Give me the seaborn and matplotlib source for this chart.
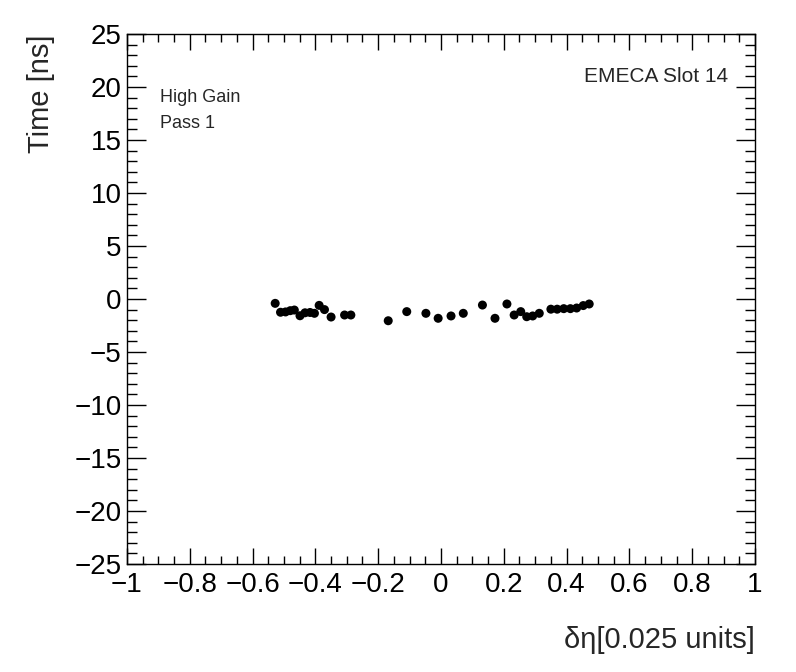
import seaborn as sns
import matplotlib.pyplot as plt
import pandas as pd
from matplotlib.ticker import MultipleLocator

# delta eta (0.025 units) and fitted time (ns)
deta = [-0.528, -0.511, -0.495, -0.480, -0.467, -0.449, -0.433, -0.417, -0.403,
        -0.388, -0.371, -0.350, -0.307, -0.287, -0.168, -0.109, -0.048, -0.009,
        0.032, 0.071, 0.132, 0.172, 0.210, 0.233, 0.254, 0.273, 0.292, 0.313,
        0.350, 0.370, 0.391, 0.412, 0.432, 0.453, 0.472]
time_ns = [-0.41, -1.25, -1.22, -1.10, -1.04, -1.58, -1.30, -1.27, -1.35,
           -0.60, -1.00, -1.70, -1.51, -1.51, -2.05, -1.19, -1.35, -1.82,
           -1.60, -1.35, -0.57, -1.82, -0.47, -1.51, -1.19, -1.67, -1.60, -1.35,
           -0.96, -0.96, -0.91, -0.91, -0.85, -0.62, -0.47]
xtick_vals = [-1, -0.8, -0.6, -0.4, -0.2, 0, 0.2, 0.4, 0.6, 0.8, 1]
xtick_text = ['\u22121', '\u22120.8', '\u22120.6', '\u22120.4', '\u22120.2',
              '0', '0.2', '0.4', '0.6', '0.8', '1']

df = pd.DataFrame({'deta': deta, 'time': time_ns})

sns.set_style("ticks")
plt.rcParams['font.family'] = ['Liberation Sans', 'DejaVu Sans']

fig = plt.figure(figsize=(7.96, 6.72), dpi=100)
ax = fig.add_axes([0.1595, 0.1607, 0.789, 0.7887])

sns.scatterplot(x='deta', y='time', data=df, ax=ax, color='black', s=42,
                edgecolor='none', marker='o')

ax.set_xlim(-1, 1)
ax.set_ylim(-25, 25)
ax.xaxis.set_minor_locator(MultipleLocator(0.05))
ax.yaxis.set_major_locator(MultipleLocator(5))
ax.yaxis.set_minor_locator(MultipleLocator(1))
ax.set_xticks(xtick_vals)
ax.set_xticklabels(xtick_text)

ax.tick_params(axis='both', which='both', direction='in', top=True, right=True,
               width=1, labelsize=20, colors='black')
ax.tick_params(axis='x', which='major', length=11.5, pad=6)
ax.tick_params(axis='x', which='minor', length=5.5)
ax.tick_params(axis='y', which='major', length=14, pad=4)
ax.tick_params(axis='y', which='minor', length=7)
for sp in ax.spines.values():
    sp.set_linewidth(1)
    sp.set_color('black')

ax.set_xlabel('\u03b4\u03b7[0.025 units]', fontsize=21, loc='right', labelpad=20)
ax.set_ylabel('Time [ns]', fontsize=21, loc='top', labelpad=14)

ax.text(0.052, 0.871, 'High Gain', transform=ax.transAxes, fontsize=13,
        ha='left', va='baseline')
ax.text(0.052, 0.823, 'Pass 1', transform=ax.transAxes, fontsize=13,
        ha='left', va='baseline')
ax.text(0.957, 0.91, 'EMECA Slot 14', transform=ax.transAxes, fontsize=15,
        ha='right', va='baseline')

fig.savefig('out.png', dpi=100)
